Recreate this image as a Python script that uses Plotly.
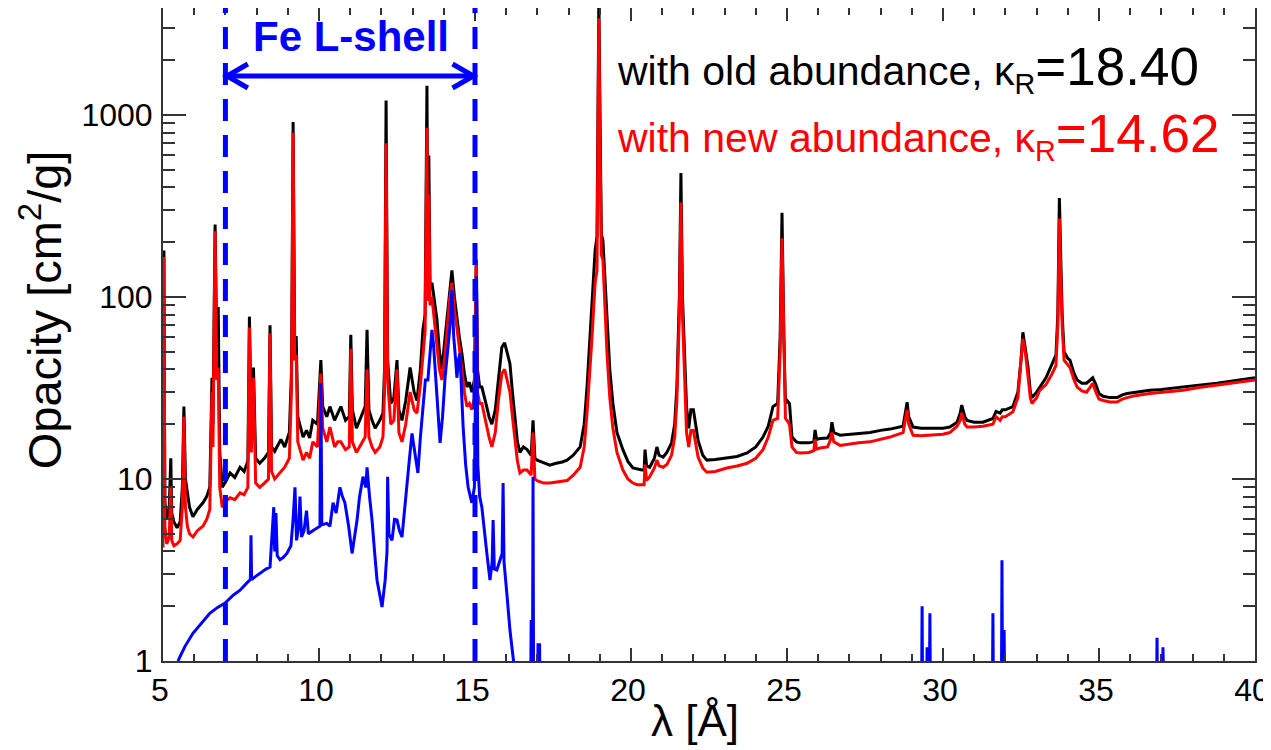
import plotly.graph_objects as go

# ---------------- data ----------------
wavelength = [5.00, 5.03, 5.06, 5.12, 5.2, 5.25, 5.28, 5.35, 5.45, 5.55, 5.62, 5.67, 5.72, 5.78, 5.85, 5.96,
              6.1, 6.28, 6.4, 6.5, 6.57, 6.6, 6.67, 6.72, 6.77, 6.82, 6.9, 7.0, 7.15, 7.3, 7.47, 7.6, 7.72,
              7.77, 7.83, 7.9, 7.97, 8.1, 8.25, 8.38, 8.43, 8.48, 8.58, 8.65, 8.78, 8.9, 9.05, 9.12, 9.17,
              9.22, 9.27, 9.32, 9.49, 9.6, 9.7, 9.8, 9.95, 10.06, 10.12, 10.25, 10.35, 10.5, 10.6, 10.7,
              10.85, 10.97, 11.02, 11.07, 11.2, 11.35, 11.48, 11.54, 11.6, 11.7, 11.8, 11.95, 12.05, 12.1,
              12.15, 12.2, 12.3, 12.4, 12.5, 12.56, 12.66, 12.78, 12.92, 13.05, 13.14, 13.25, 13.33, 13.4,
              13.46, 13.49, 13.52, 13.56, 13.62, 13.7, 13.78, 13.86, 13.94, 14.02, 14.1, 14.18, 14.26,
              14.34, 14.42, 14.5, 14.58, 14.66, 14.74, 14.82, 14.9, 14.98, 15.04, 15.08, 15.15, 15.22,
              15.35, 15.45, 15.54, 15.65, 15.75, 15.86, 15.95, 16.05, 16.12, 16.2, 16.28, 16.36, 16.44,
              16.55, 16.67, 16.8, 16.86, 16.92, 16.99, 17.2, 17.4, 17.6, 17.8, 17.95, 18.15, 18.37, 18.5,
              18.59, 18.75, 18.85, 18.91, 18.95, 18.97, 19.0, 19.05, 19.1, 19.23, 19.32, 19.42, 19.55,
              19.74, 19.9, 20.06, 20.2, 20.35, 20.42, 20.45, 20.5, 20.6, 20.75, 20.83, 20.9, 21.03, 21.15,
              21.3, 21.4, 21.47, 21.55, 21.6, 21.65, 21.7, 21.78, 21.85, 21.92, 22.0, 22.08, 22.15, 22.3,
              22.43, 22.7, 23.07, 23.4, 23.72, 24.0, 24.23, 24.4, 24.55, 24.7, 24.78, 24.84, 24.9, 24.95,
              25.0, 25.08, 25.16, 25.3, 25.42, 25.7, 25.86, 25.9, 25.95, 26.06, 26.3, 26.4, 26.44, 26.5,
              26.7, 27.0, 27.3, 27.66, 28.0, 28.3, 28.72, 28.8, 28.85, 28.9, 29.04, 29.3, 29.68, 30.0,
              30.22, 30.45, 30.55, 30.6, 30.7, 30.77, 31.0, 31.28, 31.6, 31.7, 31.83, 31.9, 32.0, 32.24,
              32.4, 32.5, 32.56, 32.65, 32.72, 32.8, 32.85, 33.0, 33.1, 33.3, 33.5, 33.62, 33.68, 33.73,
              33.78, 33.82, 33.88, 34.0, 34.07, 34.2, 34.3, 34.45, 34.6, 34.72, 34.8, 34.9, 35.0, 35.13,
              35.35, 35.58, 35.75, 35.9, 36.2, 36.63, 37.0, 37.3, 37.7, 38.2, 38.78, 39.3, 39.7, 40.0]

opacity_old = [6.0, 180, 7.5, 6.0, 7.0, 13, 6.5, 5.8, 5.4, 5.8, 9, 25, 10, 8.5, 7, 6.2,
               6.8, 7.4, 8.0, 9.0, 36, 20, 250, 60, 88, 14, 9.0, 9.6, 10.8, 10.2, 11.6, 11.0, 12.5,
               78, 20, 41, 13, 12.2, 13, 14, 70, 15, 14.2, 15, 16.5, 15, 18, 40, 915,
               60, 60, 22, 17, 18.5, 16.8, 21, 20, 45, 25, 22, 25, 21, 23, 25,
               21, 22, 62, 24, 19, 22, 25, 66, 24, 21, 19, 21, 23, 40,
               1200, 45, 26, 28, 45, 24, 21, 27, 41, 30, 27, 40, 66, 80,
               1450, 120, 600, 110, 120, 95, 75, 50, 40, 55, 75, 110, 140,
               100, 75, 60, 49, 38, 32, 34, 30, 35, 160, 40, 32, 32,
               26, 22, 20, 24, 35, 53, 56, 48, 43, 30, 21, 16, 14,
               15, 14.5, 13.5, 21, 13, 12.7, 12.3, 11.9, 12.2, 12.4, 12.7, 13.5, 15, 20,
               32, 92, 180, 215, 1300, 4500, 1300, 220, 205, 75, 40, 26, 18,
               14.5, 12.5, 11.5, 11.3, 11.2, 11.2, 14.5, 11.8, 11.6, 13, 15, 13.5, 13.2, 14,
               15.8, 20, 32, 100, 480, 100, 60, 25, 19, 24, 24, 19, 16.3, 13.5,
               12.7, 12.8, 13, 13.3, 13.9, 15, 17, 19.5, 25, 26, 60, 290, 60, 26,
               27, 26, 17, 16, 15.8, 15.8, 16, 18.6, 16.5, 16.7, 16.8, 18, 20.5, 18,
               17.4, 17.6, 17.8, 18, 18.5, 18.8, 19.5, 23, 26.4, 22, 19.3, 19.0, 19, 19,
               19.3, 20.5, 23, 25.5, 22, 21, 20.5, 20.5, 21.5, 23.5, 23, 24, 24, 25,
               30, 45, 64, 52, 42, 30, 28, 30, 32, 36, 43, 48, 80, 350,
               150, 80, 50, 46, 45, 38, 35, 33.6, 33.6, 35, 36, 33, 29.5, 28.5,
               28, 28, 29, 29.5, 30, 30.7, 31, 31.5, 32, 32.8, 33.6, 34.5, 35.3, 36]

opacity_new = [4.2, 166, 5.5, 4.4, 4.8, 9, 4.6, 4.3, 4.4, 4.6, 7, 22, 7, 5.5, 5.0, 4.8,
               5.2, 5.5, 6.0, 6.8, 30, 15, 230, 35, 41, 9, 7, 7.5, 7.9, 7.7, 8.4, 8.2, 9,
               68, 14, 36, 9.5, 9, 9.5, 10, 63, 11, 10, 10.3, 11, 11.6, 13, 32, 800,
               45, 48, 16, 12.7, 14, 13, 16, 15, 38, 19, 16, 19.3, 15, 16, 16,
               14.5, 15, 52, 16, 14, 15.5, 17, 40, 17, 15, 14, 15, 17, 30,
               700, 35, 20, 21, 40, 18, 16, 20, 30, 24, 23, 33, 49, 65,
               850, 95, 365, 90, 100, 75, 53, 40, 35, 45, 63, 95, 120,
               85, 68, 50, 40, 30, 25, 26, 24, 28, 160, 30, 26, 26,
               20, 17, 15, 18, 27, 38, 40, 34, 30, 22, 17, 12.5, 10.8,
               11.2, 11.2, 10.5, 18, 10, 9.8, 9.5, 9.5, 9.6, 9.7, 9.8, 10.5, 11.6, 15,
               23, 60, 120, 140, 900, 3400, 900, 170, 160, 49, 28, 19, 14,
               11.2, 10, 9.5, 9.3, 9.3, 9.3, 12, 9.8, 10.3, 11.5, 12.7, 11.8, 11.6, 12,
               13.5, 17, 27, 80, 330, 80, 45, 18, 15, 18.5, 18.5, 15, 13.2, 11.5,
               10.9, 11, 11.5, 11.8, 12.2, 13, 14.5, 17, 21, 21.5, 50, 210, 50, 21.5,
               21, 20, 15, 14, 13.9, 14, 14.3, 16.5, 14.6, 14.8, 15, 16.5, 18, 16,
               15.3, 15.6, 15.8, 16, 16.6, 17, 18, 21, 24, 20, 17.4, 17.3, 17.4, 17.6,
               18, 19.5, 21, 23, 20, 19.3, 19.3, 19.5, 20, 22, 21, 22, 22, 23.4,
               28, 42, 59, 48, 38, 28, 26, 28, 30.7, 33, 38, 42, 70, 270,
               120, 70, 45, 42, 41, 35, 32, 30.5, 30, 32, 33.6, 30, 27.5, 27,
               26.5, 26.5, 27.5, 28, 28.8, 29.5, 30, 30.4, 30.7, 31.8, 32.8, 33.8, 34.5, 35]

fe_wavelength = [5.48, 5.7, 5.96, 6.2, 6.5, 6.75, 6.99, 7.25, 7.47, 7.72, 7.8, 7.82, 7.84, 7.95, 8.1, 8.3,
                 8.43, 8.5, 8.55, 8.58, 8.62, 8.66, 8.75, 8.85, 8.97, 9.1, 9.17, 9.23, 9.28, 9.35, 9.39,
                 9.44, 9.52, 9.6, 9.66, 9.8, 9.95, 10.03, 10.06, 10.09, 10.25, 10.35, 10.45, 10.55, 10.67,
                 10.75, 10.83, 10.95, 11.06, 11.15, 11.22, 11.3, 11.41, 11.5, 11.54, 11.62, 11.7, 11.78,
                 11.86, 11.95, 12.02, 12.12, 12.18, 12.2, 12.24, 12.34, 12.42, 12.5, 12.58, 12.66, 12.74,
                 12.82, 12.9, 12.98, 13.08, 13.17, 13.25, 13.33, 13.41, 13.49, 13.56, 13.62, 13.67, 13.72,
                 13.8, 13.88, 13.96, 14.04, 14.12, 14.2, 14.26, 14.32, 14.38, 14.42, 14.47, 14.52, 14.57,
                 14.62, 14.7, 14.78, 14.9, 14.98, 15.02, 15.05, 15.09, 15.15, 15.22, 15.3, 15.38, 15.48,
                 15.55, 15.58, 15.62, 15.7, 15.8, 15.87, 15.9, 15.93, 16.03, 16.12, 16.25, 16.4, 16.78,
                 16.8, 16.82, 16.84, 16.86, 16.88, 17.0, 17.02, 17.05, 17.07, 17.09, 29.31, 29.33, 29.35,
                 29.47, 29.49, 29.51, 29.56, 29.58, 29.6, 31.58, 31.6, 31.62, 31.87, 31.89, 31.91, 31.94,
                 31.96, 31.98, 36.84, 36.86, 36.88, 37.03, 37.05, 37.07, 37.09]

fe_opacity = [1.0, 1.2, 1.42, 1.6, 1.83, 1.97, 2.08, 2.3, 2.45, 2.72, 2.8, 4.9, 2.8, 2.9, 3.04, 3.2,
              3.28, 5.0, 7.0, 4.0, 6.5, 3.8, 3.6, 3.7, 3.9, 4.3, 6, 9.0, 4.6, 5.5, 8,
              4.8, 5.2, 6.7, 5.0, 5.2, 5.4, 5.5, 33.6, 5.6, 5.7, 5.5, 7.4, 6.5, 9.0,
              8.0, 7.4, 5.5, 3.9, 4.8, 5.95, 8, 10.3, 9, 11.6, 8, 5.95, 4,
              2.78, 2.3, 1.98, 2.78, 4, 10.3, 5, 4.6, 6, 5.95, 5.2, 4.8, 6.5,
              9.0, 13, 17.8, 14, 10.8, 17, 25, 35, 35, 50, 66, 55, 40,
              25, 15.8, 22, 36, 50, 70, 109, 60, 45, 36, 45, 49, 30,
              19.3, 12, 9, 7.4, 9, 35, 130, 12, 8, 7.0, 5.0, 3.9, 2.78,
              3.5, 5.95, 3.2, 3.16, 3.6, 3.9, 9.5, 3.5, 2.25, 1.48, 0.95, 0.5, 0.5,
              1.68, 0.5, 0.5, 10.3, 0.5, 0.5, 1.25, 0.8, 1.25, 0.5, 0.5, 2.0, 0.5,
              0.5, 1.19, 0.5, 0.5, 1.83, 0.5, 0.5, 1.83, 0.5, 0.5, 3.58, 0.5, 0.5,
              1.48, 0.5, 0.5, 1.34, 0.5, 0.5, 1.19, 0.8, 0.5]

x_ticks = [5, 10, 15, 20, 25, 30, 35, 40]
y_ticks = [1, 10, 100, 1000]
y_tick_text = ["1", "10", "100", "1000"]
y_minor = [2, 3, 4, 5, 6, 7, 8, 9, 20, 30, 40, 50, 60, 70, 80, 90,
           200, 300, 400, 500, 600, 700, 800, 900, 2000, 3000]
fe_band = [7, 15]

FONT = "Liberation Sans, Arial, Helvetica, sans-serif"
AX = "#333333"

fig = go.Figure()
fig.add_trace(go.Scatter(x=wavelength, y=opacity_old, mode="lines",
                         line=dict(color="black", width=3), showlegend=False))
fig.add_trace(go.Scatter(x=wavelength, y=opacity_new, mode="lines",
                         line=dict(color="#ff0000", width=3), showlegend=False))
fig.add_trace(go.Scatter(x=fe_wavelength, y=fe_opacity, mode="lines",
                         line=dict(color="#0000ff", width=3), showlegend=False))

# dashed band limits
for xv in fe_band:
    fig.add_shape(type="line", xref="x", yref="paper", x0=xv, x1=xv, y0=0, y1=1,
                  line=dict(color="#0000ff", width=5, dash="22px,14px"))

# double arrow
ya, yt, yb = 0.8959, 0.9142, 0.8775
fig.add_shape(type="line", xref="x", yref="paper", x0=fe_band[0] + 0.05, x1=fe_band[1] - 0.05,
              y0=ya, y1=ya, line=dict(color="#0000ff", width=5))
fig.add_shape(type="path", xref="x", yref="paper",
              path=f"M {fe_band[0]+0.72},{yt} L {fe_band[0]+0.05},{ya} L {fe_band[0]+0.72},{yb}",
              line=dict(color="#0000ff", width=5))
fig.add_shape(type="path", xref="x", yref="paper",
              path=f"M {fe_band[1]-0.72},{yt} L {fe_band[1]-0.05},{ya} L {fe_band[1]-0.72},{yb}",
              line=dict(color="#0000ff", width=5))

fig.add_annotation(x=11.03, y=0.9556, xref="x", yref="paper", xanchor="center", yanchor="middle",
                   text="<b>Fe L-shell</b>",
                   showarrow=False, font=dict(family=FONT, size=42, color="#0000ff"))

fig.add_annotation(x=0.4135, y=0.9066, xref="paper", yref="paper", xanchor="left", yanchor="middle",
                   text="with old abundance, κ<sub>R</sub><span style='font-size:53px'>=18.40</span>",
                   showarrow=False, font=dict(family=FONT, size=41, color="black"))
fig.add_annotation(x=0.4135, y=0.8055, xref="paper", yref="paper", xanchor="left", yanchor="middle",
                   text="with new abundance, κ<sub>R</sub><span style='font-size:53px'>=14.62</span>",
                   showarrow=False, font=dict(family=FONT, size=41, color="#ff0000"))

# axis titles
fig.add_annotation(x=0.487, y=-0.0904, xref="paper", yref="paper", xanchor="center", yanchor="middle",
                   text="λ [Å]", showarrow=False,
                   font=dict(family=FONT, size=44, color="black"))
fig.add_annotation(x=-0.1115, y=0.5375, xref="paper", yref="paper", xanchor="center", yanchor="middle",
                   text="Opacity [cm<sup>2</sup>/g]", borderpad=0,
                   textangle=-90, showarrow=False, font=dict(family=FONT, size=47, color="black"))

fig.update_xaxes(range=[5, 40], tickvals=x_ticks, ticks="inside", ticklen=13, tickwidth=1.5,
                 tickcolor=AX, showline=True, linewidth=2, linecolor=AX, mirror="allticks",
                 showgrid=False, zeroline=False, ticklabelstandoff=0, automargin=False,
                 ticklabeloverflow="allow", ticklabelshift=-3,
                 tickfont=dict(family=FONT, size=32, color="black"),
                 minor=dict(dtick=1, ticks="inside", ticklen=7, tickwidth=1.5, tickcolor=AX, showgrid=False))
fig.update_yaxes(type="log", range=[0, 3.588], tickvals=y_ticks, ticktext=y_tick_text, ticks="inside",
                 ticklen=23, tickwidth=1.5, tickcolor=AX, showline=True, linewidth=2, linecolor=AX,
                 mirror="allticks", showgrid=False, zeroline=False, ticklabelstandoff=2,
                 automargin=False, ticklabeloverflow="allow",
                 tickfont=dict(family=FONT, size=32, color="black"),
                 minor=dict(tickvals=y_minor, ticks="inside", ticklen=12, tickwidth=1.5, tickcolor=AX,
                            showgrid=False))

# the page adds an 8 px body margin, so the figure is sized to fit the 1271x750 window
fig.update_layout(width=1263, height=742, margin=dict(l=155, r=16, t=0, b=89),
                  plot_bgcolor="white", paper_bgcolor="white", showlegend=False,
                  font=dict(family=FONT))

fig.write_html("out.html")
